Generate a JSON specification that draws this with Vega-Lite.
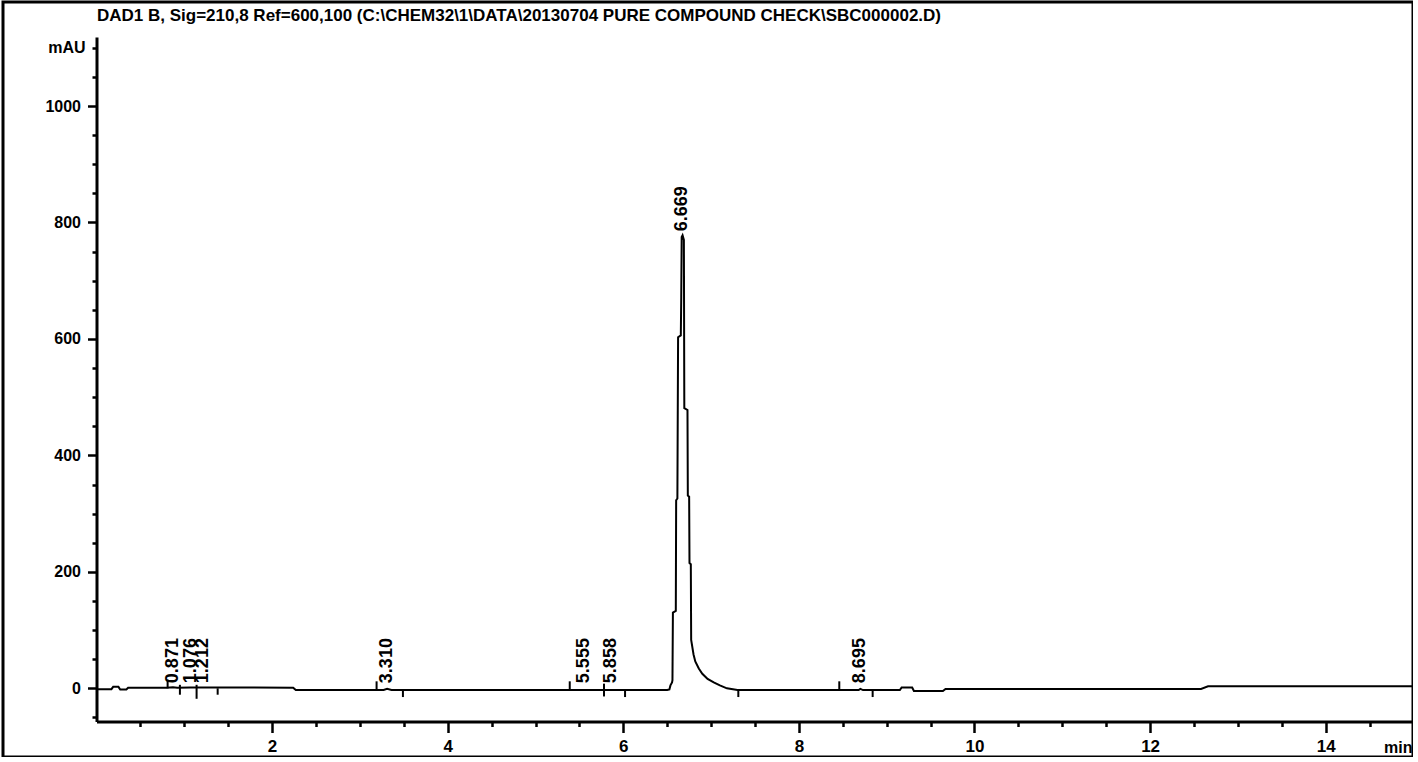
{
  "$schema": "https://vega.github.io/schema/vega-lite/v6.json",
  "width": 1410,
  "height": 755,
  "autosize": {"type": "none"},
  "padding": {"left": 3, "top": 2, "right": 0, "bottom": 0},
  "background": "white",
  "datasets": {
    "trace": [
      {"t": 0.0, "v": -1.5},
      {"t": 0.17, "v": -1.5},
      {"t": 0.19, "v": 2.5},
      {"t": 0.25, "v": 2.5},
      {"t": 0.27, "v": -2},
      {"t": 0.34, "v": -2},
      {"t": 0.36, "v": 1},
      {"t": 0.8, "v": 1},
      {"t": 0.87, "v": 2},
      {"t": 0.92, "v": 1},
      {"t": 1.07, "v": 1.5},
      {"t": 1.21, "v": 1.5},
      {"t": 2.24, "v": 1},
      {"t": 2.27, "v": -3},
      {"t": 3.27, "v": -3},
      {"t": 3.31, "v": -1},
      {"t": 3.36, "v": -3},
      {"t": 5.55, "v": -3},
      {"t": 5.86, "v": -3},
      {"t": 6.5, "v": -3},
      {"t": 6.525, "v": -2},
      {"t": 6.537, "v": 5},
      {"t": 6.555, "v": 10},
      {"t": 6.56, "v": 14},
      {"t": 6.565, "v": 130},
      {"t": 6.598, "v": 133},
      {"t": 6.602, "v": 323},
      {"t": 6.616, "v": 326},
      {"t": 6.624, "v": 603},
      {"t": 6.655, "v": 606},
      {"t": 6.66, "v": 672},
      {"t": 6.665, "v": 775},
      {"t": 6.675, "v": 778},
      {"t": 6.69, "v": 770},
      {"t": 6.695, "v": 481},
      {"t": 6.731, "v": 478},
      {"t": 6.735, "v": 331},
      {"t": 6.75, "v": 329},
      {"t": 6.754, "v": 215},
      {"t": 6.769, "v": 213},
      {"t": 6.773, "v": 83},
      {"t": 6.8, "v": 58},
      {"t": 6.82, "v": 46},
      {"t": 6.86, "v": 34},
      {"t": 6.9, "v": 25},
      {"t": 6.96, "v": 16},
      {"t": 7.03, "v": 10},
      {"t": 7.1, "v": 5},
      {"t": 7.18, "v": 0},
      {"t": 7.3, "v": -3},
      {"t": 8.68, "v": -3},
      {"t": 8.7, "v": -1},
      {"t": 8.73, "v": -3},
      {"t": 9.15, "v": -3},
      {"t": 9.17, "v": 1.5},
      {"t": 9.29, "v": 1.5},
      {"t": 9.31, "v": -4.5},
      {"t": 9.64, "v": -4.5},
      {"t": 9.67, "v": -1},
      {"t": 12.58, "v": -1},
      {"t": 12.66, "v": 3.5},
      {"t": 15.0, "v": 3.5}
    ],
    "markers": [
      {"t": 0.81, "v": 0, "hi": 15},
      {"t": 0.95, "v": -11, "hi": 6},
      {"t": 1.14, "v": -18, "hi": 6},
      {"t": 1.38, "v": -11, "hi": 0},
      {"t": 3.19, "v": -3, "hi": 12},
      {"t": 3.49, "v": -15, "hi": -3},
      {"t": 5.39, "v": -3, "hi": 12},
      {"t": 5.78, "v": -14, "hi": 8},
      {"t": 6.02, "v": -15, "hi": -3},
      {"t": 7.31, "v": -15, "hi": -3},
      {"t": 8.46, "v": -3, "hi": 12},
      {"t": 8.84, "v": -15, "hi": -3}
    ],
    "peaks": [
      {"t": 0.871, "label": "0.871", "v": 2},
      {"t": 1.076, "label": "1.076", "v": 2},
      {"t": 1.212, "label": "1.212", "v": 2},
      {"t": 3.31, "label": "3.310", "v": 2},
      {"t": 5.555, "label": "5.555", "v": 2},
      {"t": 5.858, "label": "5.858", "v": 2},
      {"t": 6.669, "label": "6.669", "v": 778},
      {"t": 8.695, "label": "8.695", "v": 2}
    ]
  },
  "encoding": {
    "x": {
      "field": "t",
      "type": "quantitative",
      "scale": {"domain": [0, 15], "range": [93.5, 1410.5], "nice": false, "zero": false},
      "axis": {
        "values": [0.5, 1, 1.5, 2, 2.5, 3, 3.5, 4, 4.5, 5, 5.5, 6, 6.5, 7, 7.5, 8, 8.5, 9, 9.5, 10, 10.5, 11, 11.5, 12, 12.5, 13, 13.5, 14, 14.5],
        "format": ".1f",
        "labelExpr": "datum.value % 2 === 0 ? format(datum.value, 'd') : ''",
        "tickSize": {"condition": {"test": "datum.value % 2 === 0", "value": 11}, "value": 5},
        "labelPadding": 6,
        "offset": -35.5,
        "domainWidth": 3,
        "tickWidth": 2.5,
        "labelFontSize": 17,
        "labelOverlap": false,
        "labelFlush": false,
        "labelBound": false,
        "title": "min",
        "titleX": 1409,
        "titleY": 30.5,
        "titleAlign": "right",
        "titleBaseline": "alphabetic",
        "titleAnchor": "end",
        "titleFontSize": 16,
        "titleFontWeight": "bold",
        "titleFont": "Liberation Sans",
        "titleColor": "black"
      }
    },
    "y": {
      "field": "v",
      "type": "quantitative",
      "scale": {"domain": [-57, 1118.5], "range": [719.5, 35], "nice": false, "zero": false},
      "axis": {
        "values": [-50, 0, 50, 100, 150, 200, 250, 300, 350, 400, 450, 500, 550, 600, 650, 700, 750, 800, 850, 900, 950, 1000, 1050, 1100],
        "format": "d",
        "labelExpr": "datum.value === 1100 ? 'mAU' : ((datum.value >= 0 && datum.value % 200 === 0) ? datum.label : '')",
        "tickSize": {"condition": {"test": "datum.value >= 0 && datum.value <= 1000 && datum.value % 200 === 0", "value": 9}, "value": 4.5},
        "labelPadding": 7,
        "offset": -93.5,
        "domainWidth": 3,
        "tickWidth": 2.5,
        "labelFontSize": 16,
        "labelOverlap": false,
        "labelFlush": false,
        "labelBound": false,
        "title": "DAD1 B, Sig=210,8 Ref=600,100 (C:\\CHEM32\\1\\DATA\\20130704 PURE COMPOUND CHECK\\SBC000002.D)",
        "titleAngle": 0,
        "titleX": 0,
        "titleY": 18,
        "titleAlign": "left",
        "titleBaseline": "alphabetic",
        "titleAnchor": "start",
        "titleFont": "Liberation Sans",
        "titleFontSize": 17,
        "titleFontWeight": "bold",
        "titleColor": "black",
        "titleLimit": 1300
      }
    }
  },
  "layer": [
    {
      "data": {"name": "trace"},
      "mark": {"type": "line", "color": "black", "strokeWidth": 2, "clip": true}
    },
    {
      "data": {"name": "markers"},
      "mark": {"type": "rule", "color": "black", "strokeWidth": 2},
      "encoding": {
        "y2": {"field": "hi"}
      }
    },
    {
      "data": {"name": "peaks"},
      "mark": {"type": "text", "angle": 270, "align": "left", "baseline": "middle", "dx": 4, "font": "Liberation Sans", "fontSize": 18, "fontWeight": "bold", "color": "black"},
      "encoding": {
        "text": {"field": "label", "type": "nominal"}
      }
    }
  ],
  "config": {
    "view": {"stroke": "black", "strokeWidth": 3},
    "axis": {
      "domainColor": "black",
      "tickColor": "black",
      "labelColor": "black",
      "labelFont": "Liberation Sans",
      "labelFontWeight": "bold",
      "grid": false
    }
  }
}
